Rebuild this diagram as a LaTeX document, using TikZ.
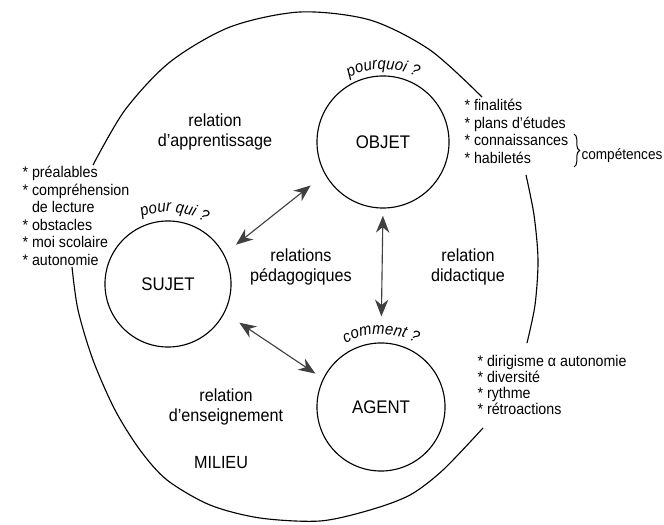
\documentclass[tikz,border=0pt]{standalone}
\usepackage{fontspec}
\setmainfont{Liberation Sans}[FakeStretch=0.92]
\usepackage{tikz}
\usetikzlibrary{arrows.meta,decorations.text,decorations.pathreplacing}
\tikzset{pole/.style={draw, circle, inner sep=0pt, line width=.8pt, font=\fontsize{13}{15}\selectfont},
  rel/.style={align=center, font=\fontsize{12.5}{14.5}\selectfont},
  items/.style={align=left, anchor=north west, inner sep=0pt, font=\fontsize{11}{12.4}\selectfont},
  link/.style={{Stealth[length=12pt,width=9.5pt]}-{Stealth[length=12pt,width=9.5pt]}, line width=.8pt, draw=black!75},
  ask/.style={decorate, decoration={text effects along path, text={#1}, text align=center,
    text effects/.cd, text along path, characters={font=\itshape\fontsize{11.5}{13}\selectfont, inner sep=0pt}}}}

\begin{document}
\begin{tikzpicture}[x=0.025cm, y=0.025cm, line width=.8pt]
  \useasboundingbox (0,0) rectangle (664,525);
  % milieu
  \draw plot[smooth] coordinates {(93,360) (125,415) (170,463) (230,498) (300,513) (370,505) (430,475) (482,428)};
  \draw plot[smooth] coordinates {(526,350) (534,310) (538,265) (535,220) (527,182)};
  \draw plot[smooth] coordinates {(72,258) (78,215) (93,165) (115,115) (140,75) (167,45) (210,20) (260,7) (320,4) (370,15) (410,30) (443,55) (483,97)};
  % poles
  \node[pole, minimum size=3.3cm] (objet) at (383,383) {OBJET};
  \node[pole, minimum size=3.15cm] (sujet) at (168,241) {SUJET};
  \node[pole, minimum size=3.2cm] (agent) at (381,118) {AGENT};
  \path[ask=pourquoi ?] (objet.center) ++(135:1.82cm) arc[start angle=135, end angle=45, radius=1.82cm];
  \path[ask=pour qui ?] (sujet.center) ++(130:1.8cm) arc[start angle=130, end angle=40, radius=1.8cm];
  \path[ask=comment ?] (agent.center) ++(135:1.82cm) arc[start angle=135, end angle=45, radius=1.82cm];
  \draw[link, shorten <=.38cm, shorten >=.45cm] (sujet.28) -- (objet.209);
  \draw[link, shorten <=.44cm, shorten >=.23cm] (sujet.333) -- (agent.154);
  \draw[link, shorten <=.18cm, shorten >=.65cm] (objet.270) -- (agent.90);
  % relations
  \node[rel] (apprent) at (215,393) {relation\\d'apprentissage};
  \node[rel] (pedago) at (301,258) {relations\\pédagogiques};
  \node[rel] (didact) at (468,258) {relation\\didactique};
  \node[rel] (enseign) at (226,118) {relation\\d'enseignement};
  \node[rel] (milieu) at (221,62) {MILIEU};
  % lists
  \node[items] (prealables) at (22,359) {* préalables\\* compréhension\\\phantom{*} de lecture\\* obstacles\\* moi scolaire\\* autonomie};
  \node[items] (finalites) at (464,426) {* finalités\\* plans d'études\\* connaissances\\* habiletés};
  \node[items, font=\fontsize{11}{11.2}\selectfont] (dirigisme) at (477,170) {* dirigisme α autonomie\\* diversité\\* rythme\\* rétroactions};
  \draw[decorate, decoration={brace, amplitude=4pt}, line width=.7pt] (574,391) -- (574,358);
  \node[anchor=west, inner sep=0pt, font=\fontsize{10.5}{12}\selectfont] (competences) at (581,369) {compétences};
\end{tikzpicture}
\end{document}
